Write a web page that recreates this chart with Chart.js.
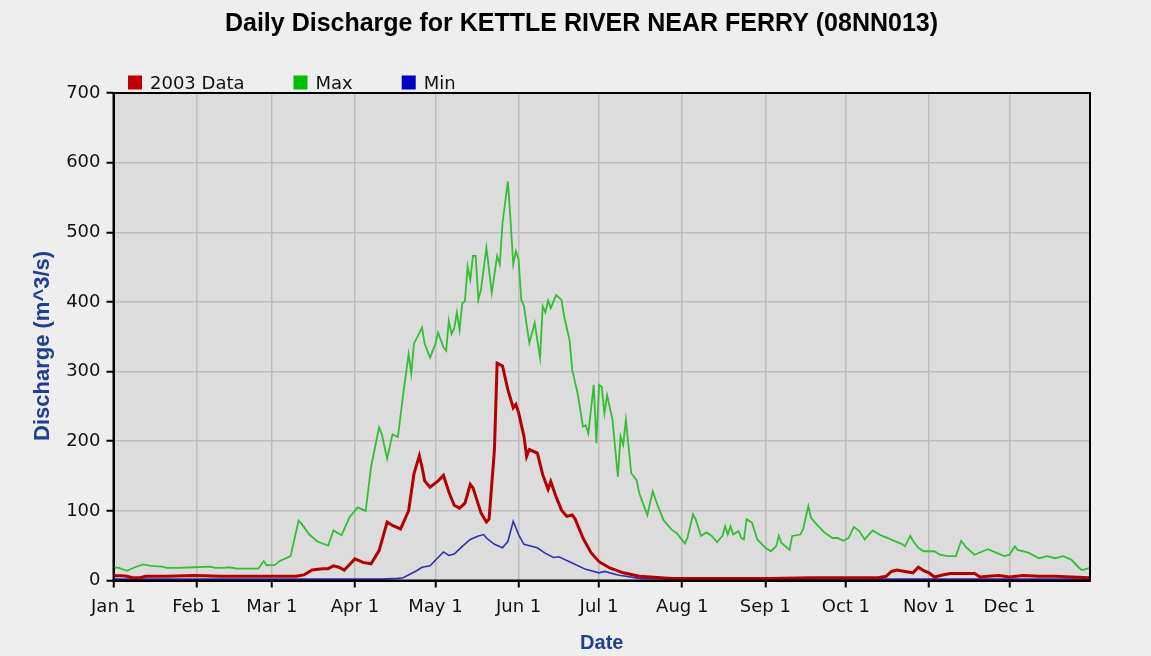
<!DOCTYPE html>
<html>
<head>
<meta charset="utf-8">
<script src="https://cdn.jsdelivr.net/npm/chart.js@4.4.1/dist/chart.umd.min.js"></script>
<style>
  html, body { margin: 0; padding: 0; background: #eeeeee; }
  #wrap { width: 1151px; height: 656px; position: relative; }
</style>
</head>
<body>
<div id="wrap"><canvas id="flowChart"></canvas></div>
<script>
// Day-of-year (0 = Jan 1) where each month begins, and its axis label
const monthStarts = [0, 31, 59, 90, 120, 151, 181, 212, 243, 273, 304, 334];
const monthLabels = ['Jan 1', 'Feb 1', 'Mar 1', 'Apr 1', 'May 1', 'Jun 1',
                     'Jul 1', 'Aug 1', 'Sep 1', 'Oct 1', 'Nov 1', 'Dec 1'];
const yTicks = [0, 100, 200, 300, 400, 500, 600, 700];

// 2003 daily discharge (m^3/s), sampled by day of year
const obsDays = [0, 3, 5, 7, 10, 12, 20, 30, 40, 50, 60, 68, 71, 74, 78, 80, 82, 84, 86, 88,
  90, 93, 96, 99, 102, 104, 107, 110, 112, 114, 115, 116, 118, 121, 123, 125, 127, 129, 131, 133,
  134, 137, 139, 140, 142, 143, 145, 147, 149, 150, 151, 153, 154, 155, 158, 160, 162, 163, 165, 167,
  169, 171, 172, 175, 178, 181, 185, 190, 196, 208, 218, 230, 245, 260, 275, 285, 288, 290, 292, 295,
  298, 300, 302, 304, 306, 309, 312, 321, 323, 326, 330, 334, 339, 345, 351, 357, 364];
const obsFlow = [7, 7, 6, 4, 4, 6, 6, 7, 6, 6, 6, 6, 8, 15, 17, 17, 21, 19, 15, 23,
  31, 26, 24, 43, 84, 79, 74, 100, 153, 179, 163, 143, 134, 143, 151, 127, 108, 104, 111, 138,
  133, 97, 84, 88, 188, 312, 308, 274, 248, 253, 241, 207, 178, 188, 183, 152, 131, 142, 120, 101,
  92, 94, 89, 61, 40, 27, 18, 11, 6, 3, 3, 3, 3, 4, 4, 4, 6, 13, 15, 13,
  11, 19, 14, 11, 5, 8, 10, 10, 5, 6, 7, 5, 7, 6, 6, 5, 4];

// Historical daily maximum
const maxDays = [0, 2, 5, 8, 11, 14, 18, 20, 24, 30, 36, 38, 41, 43, 46, 51, 54, 56, 57, 60,
  62, 66, 69, 70, 73, 76, 80, 82, 85, 88, 91, 94, 96, 99, 100, 102, 104, 106, 108, 110,
  111, 112, 115, 116, 118, 120, 121, 123, 124, 125, 126, 127, 128, 129, 130, 131, 132, 133, 134, 135,
  136, 137, 139, 141, 143, 144, 145, 147, 148, 149, 150, 151, 152, 153, 155, 157, 159, 160, 161, 162,
  163, 165, 167, 168, 170, 171, 173, 175, 176, 177, 179, 180, 181, 182, 183, 184, 186, 188, 189, 190,
  191, 193, 195, 196, 199, 201, 203, 205, 208, 210, 213, 214, 216, 217, 219, 221, 223, 225, 227, 228,
  229, 230, 231, 233, 234, 235, 236, 238, 240, 243, 245, 247, 248, 249, 252, 253, 256, 257, 259, 260,
  262, 265, 268, 270, 272, 274, 276, 278, 280, 283, 286, 288, 291, 294, 295, 297, 298, 300, 302, 306,
  308, 311, 314, 316, 318, 321, 324, 326, 329, 332, 334, 336, 337, 341, 345, 348, 351, 354, 357, 360,
  361, 364];
const maxFlow = [19, 18, 14, 19, 23, 21, 20, 18, 18, 19, 20, 18, 18, 19, 17, 17, 17, 28, 22, 22,
  28, 35, 86, 82, 66, 56, 50, 72, 65, 91, 105, 100, 163, 220, 210, 175, 210, 206, 268, 325,
  297, 340, 363, 340, 320, 340, 356, 335, 330, 373, 354, 362, 385, 360, 398, 401, 451, 432, 466, 466,
  403, 418, 478, 413, 466, 454, 513, 573, 518, 454, 473, 461, 403, 394, 341, 370, 320, 394, 385, 402,
  391, 410, 403, 379, 345, 302, 269, 221, 223, 211, 281, 197, 281, 278, 240, 266, 231, 149, 207, 195,
  231, 154, 144, 125, 94, 128, 106, 87, 73, 68, 53, 62, 95, 88, 64, 69, 64, 55, 64, 78,
  66, 78, 66, 71, 61, 59, 88, 83, 59, 47, 42, 49, 64, 54, 44, 64, 66, 73, 107, 90,
  81, 69, 61, 61, 57, 61, 77, 71, 59, 72, 65, 62, 57, 52, 49, 64, 57, 47, 42, 42,
  37, 35, 35, 57, 47, 37, 42, 45, 40, 35, 37, 49, 44, 40, 32, 35, 32, 35, 30, 18,
  15, 18];

// Historical daily minimum
const minDays = [0, 30, 60, 72, 90, 100, 106, 108, 111, 113, 115, 118, 121, 123, 125, 127, 130, 133, 136, 138,
  139, 142, 145, 147, 149, 151, 153, 158, 161, 164, 166, 171, 176, 181, 183, 188, 196, 210, 364];
const minFlow = [2, 2, 2, 2, 2, 2, 3, 4, 10, 14, 19, 21, 33, 41, 36, 38, 49, 59, 64, 66,
  61, 52, 47, 56, 85, 66, 52, 47, 39, 33, 34, 25, 16, 11, 13, 8, 3, 2, 2];

const seriesNames = ['2003 Data', 'Max', 'Min'];
const chartTitle = 'Daily Discharge for KETTLE RIVER NEAR FERRY (08NN013)';

const toPoints = (days, vals) => days.map((d, i) => ({ x: d, y: vals[i] }));

// Grey plot panel behind the grid, black frame on top of everything
const plotFrame = {
  id: 'plotFrame',
  beforeDraw(chart) {
    const { ctx, chartArea: a } = chart;
    ctx.save();
    ctx.fillStyle = '#dcdcdc';
    ctx.fillRect(a.left, a.top, a.right - a.left, a.bottom - a.top);
    ctx.restore();
  },
  afterDraw(chart) {
    const { ctx, chartArea: a } = chart;
    ctx.save();
    ctx.strokeStyle = '#000';
    ctx.lineWidth = 2;
    ctx.strokeRect(a.left, a.top, a.right - a.left, a.bottom - a.top);
    ctx.restore();
  }
};

// Heading plus a single-row legend just above the plot panel
const header = {
  id: 'header',
  afterDraw(chart) {
    const { ctx, chartArea: a } = chart;
    ctx.save();
    ctx.fillStyle = '#000';
    ctx.font = 'bold 25px "Liberation Sans"';
    ctx.textAlign = 'center';
    ctx.textBaseline = 'middle';
    ctx.fillText(chartTitle, chart.width / 2 + 6, 24);

    const y = a.top - 10.5;
    let x = a.left + 14.5;
    ctx.font = '18px "DejaVu Sans"';
    ctx.textAlign = 'left';
    chart.data.datasets.forEach(ds => {
      ctx.fillStyle = ds.backgroundColor;
      ctx.fillRect(x, y - 7, 14, 14);
      ctx.fillStyle = '#111';
      ctx.fillText(ds.label, x + 22, y + 1.5);
      x += 22 + ctx.measureText(ds.label).width + 49;
    });
    ctx.restore();
  }
};

const axisTitleColor = '#1f3f8f';
const tickFont = { family: 'DejaVu Sans', size: 18 };

new Chart(document.getElementById('flowChart'), {
  type: 'line',
  data: {
    datasets: [
      { label: seriesNames[0], data: toPoints(obsDays, obsFlow),
        borderColor: '#b40000', backgroundColor: '#c00000', borderWidth: 3 },
      { label: seriesNames[1], data: toPoints(maxDays, maxFlow),
        borderColor: '#33bf33', backgroundColor: '#00c000', borderWidth: 1.8 },
      { label: seriesNames[2], data: toPoints(minDays, minFlow),
        borderColor: '#3030b4', backgroundColor: '#0000c0', borderWidth: 1.6 }
    ]
  },
  options: {
    responsive: true,
    maintainAspectRatio: false,
    animation: false,
    devicePixelRatio: 1,
    layout: { padding: { left: 0, right: 61, top: 93, bottom: 0 } },
    elements: { point: { radius: 0 }, line: { tension: 0, fill: false } },
    plugins: {
      legend: { display: false },
      tooltip: { enabled: false },
      title: { display: false }
    },
    scales: {
      x: {
        type: 'linear',
        min: 0,
        max: 364,
        afterBuildTicks: s => { s.ticks = monthStarts.map(v => ({ value: v })); },
        afterFit: s => { s.height = 75.5; },
        ticks: {
          autoSkip: false, maxRotation: 0, minRotation: 0,
          color: '#111', font: tickFont, padding: 9,
          callback: (v, i) => monthLabels[i]
        },
        grid: { color: '#bdbdbd', lineWidth: 1.5, tickLength: 7, tickColor: '#000', tickWidth: 2 },
        border: { display: true, color: '#000', width: 2 },
        title: {
          display: true, text: 'Date', color: axisTitleColor,
          font: { family: 'Liberation Sans', size: 20, weight: 'bold' },
          padding: { top: 0, bottom: 1 }
        }
      },
      y: {
        min: 0,
        max: 700,
        afterBuildTicks: s => { s.ticks = yTicks.map(v => ({ value: v })); },
        afterFit: s => { s.width = 113.5; },
        ticks: { color: '#111', font: tickFont, padding: 6 },
        grid: { color: '#bdbdbd', lineWidth: 1.5, tickLength: 7, tickColor: '#000', tickWidth: 2 },
        border: { display: true, color: '#000', width: 2 },
        title: {
          display: true, text: 'Discharge (m^3/s)   ', color: axisTitleColor,
          font: { family: 'Liberation Sans', size: 22, weight: 'bold' },
          padding: { top: 30, bottom: 0 }
        }
      }
    }
  },
  plugins: [plotFrame, header]
});
</script>
</body>
</html>
